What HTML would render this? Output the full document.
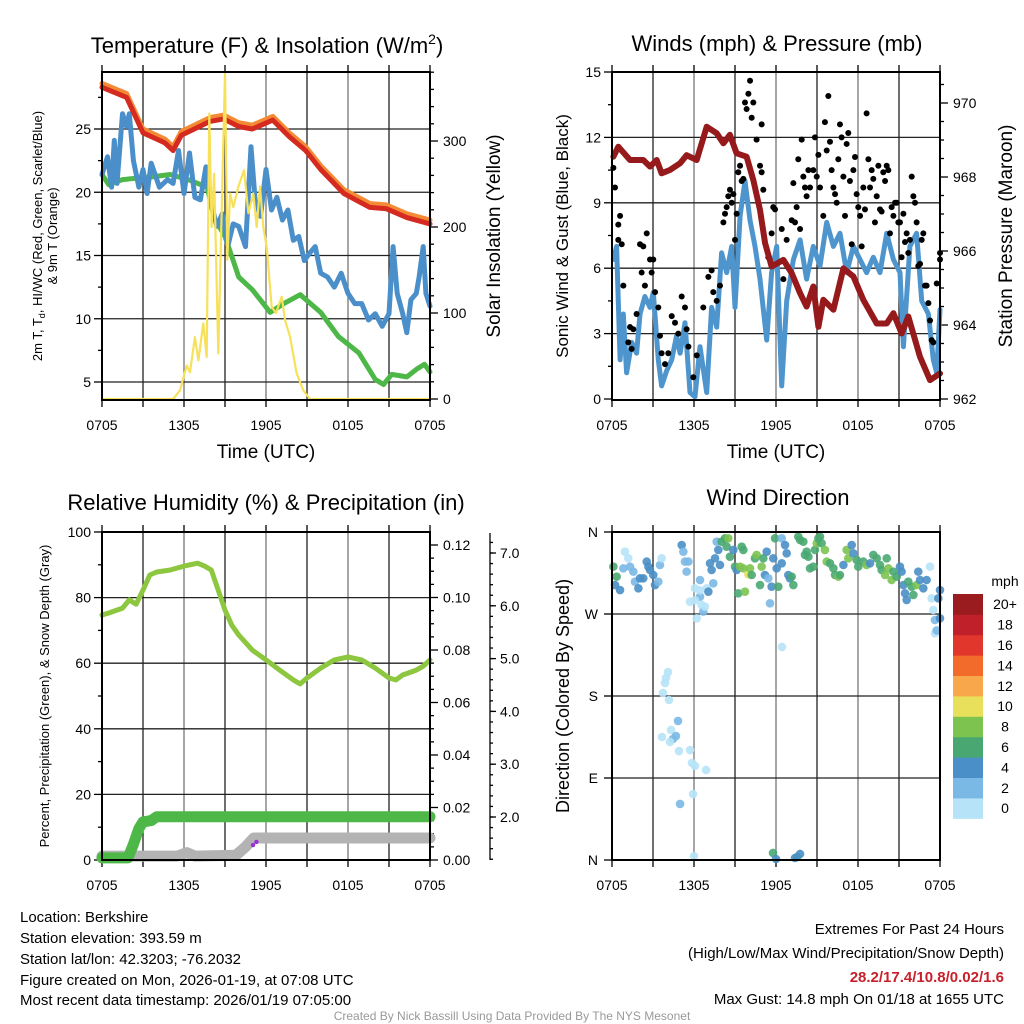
<!DOCTYPE html>
<html><head><meta charset="utf-8"><style>
html,body{margin:0;padding:0;background:#fff;}
svg{display:block;font-family:"Liberation Sans",Arial,sans-serif;}
</style></head><body>
<svg id="chart" width="1024" height="1024" viewBox="0 0 1024 1024">
<rect width="1024" height="1024" fill="#fff"/>
<g id="layer"></g>
<text x="267" y="53" font-size="22" text-anchor="middle">Temperature (F) &amp; Insolation (W/m<tspan font-size="14" dy="-9">2</tspan><tspan dy="9">)</tspan></text>
<text x="777" y="51" font-size="22" text-anchor="middle">Winds (mph) &amp; Pressure (mb)</text>
<text x="266" y="510" font-size="22" text-anchor="middle">Relative Humidity (%) &amp; Precipitation (in)</text>
<text x="778" y="505" font-size="22" text-anchor="middle">Wind Direction</text>
<text x="266" y="458" font-size="19" text-anchor="middle">Time (UTC)</text>
<text x="776" y="458" font-size="19" text-anchor="middle">Time (UTC)</text>
<text transform="translate(42,236) rotate(-90)" font-size="13" text-anchor="middle">2m T, T<tspan font-size="9" dy="3">d</tspan><tspan dy="-3">, HI/WC (Red, Green, Scarlet/Blue)</tspan></text>
<text transform="translate(57,236) rotate(-90)" font-size="13" text-anchor="middle">&amp; 9m T (Orange)</text>
<text transform="translate(500,236) rotate(-90)" font-size="19" text-anchor="middle">Solar Insolation (Yellow)</text>
<text transform="translate(568,236) rotate(-90)" font-size="17" text-anchor="middle">Sonic Wind &amp; Gust (Blue, Black)</text>
<text transform="translate(1012,236) rotate(-90)" font-size="19" text-anchor="middle">Station Pressure (Maroon)</text>
<text transform="translate(49,696) rotate(-90)" font-size="13" text-anchor="middle">Percent, Precipitation (Green), &amp; Snow Depth (Gray)</text>
<text transform="translate(569,696) rotate(-90)" font-size="18" text-anchor="middle">Direction (Colored By Speed)</text>
<g font-size="15">
<text x="20" y="922">Location: Berkshire</text>
<text x="20" y="943">Station elevation: 393.59 m</text>
<text x="20" y="964">Station lat/lon: 42.3203; -76.2032</text>
<text x="20" y="985">Figure created on Mon, 2026-01-19, at 07:08 UTC</text>
<text x="20" y="1005">Most recent data timestamp: 2026/01/19 07:05:00</text>
</g>
<g font-size="15" text-anchor="end">
<text x="1004" y="934">Extremes For Past 24 Hours</text>
<text x="1004" y="958">(High/Low/Max Wind/Precipitation/Snow Depth)</text>
<text x="1004" y="982" fill="#c8202a" font-weight="bold">28.2/17.4/10.8/0.02/1.6</text>
<text x="1004" y="1004">Max Gust: 14.8 mph On 01/18 at 1655 UTC</text>
</g>
<text x="512" y="1020" font-size="12" fill="#999" text-anchor="middle">Created By Nick Bassill Using Data Provided By The NYS Mesonet</text>
</svg>
<script>
// ---------- data ----------
var timeTicks = ["0705","1305","1905","0105","0705"];
var tempRed = [[0,28.3],[1.8,27.5],[3.0,24.7],[4.6,23.9],[5.2,23.3],[5.8,24.5],[7.9,25.6],[8.9,25.8],[10.0,25.2],[11.0,25.0],[12.5,25.7],[13.7,24.4],[14.9,23.3],[16.0,21.8],[17.7,19.9],[19.6,18.8],[20.8,18.7],[22.3,18.0],[24,17.5]];
var tempOrange = [[0,28.6],[1.8,27.8],[3.0,25.0],[4.6,24.2],[5.2,23.6],[5.8,24.8],[7.9,25.9],[8.9,26.1],[10.0,25.5],[11.0,25.3],[12.5,26.0],[13.7,24.7],[14.9,23.6],[16.0,22.1],[17.7,20.2],[19.6,19.1],[20.8,19.0],[22.3,18.3],[24,17.8]];
var tempGreen = [[0,21.4],[0.5,20.6],[1.5,21.0],[2.5,21.1],[3.5,21.2],[5,21.4],[6.3,21.0],[7,20.7],[7.7,20.4],[8.2,18.0],[9,16.5],[9.6,14.6],[10,13.3],[11,12.3],[11.8,11.2],[12.3,10.5],[13.3,11.2],[14.5,11.9],[16,10.5],[17.3,8.6],[18.8,7.3],[20,5.2],[20.6,4.8],[21.2,5.6],[22.3,5.4],[23,6.0],[23.6,6.4],[24,5.8]];
var tempBlue = [[0,21.4],[0.4,22.8],[0.7,20.4],[0.9,24.1],[1.1,20.7],[1.5,26.2],[1.8,25.2],[2.0,26.2],[2.3,22.5],[2.7,20.4],[3.0,21.8],[3.3,19.9],[3.6,22.3],[4.2,20.4],[4.8,21.0],[5.2,20.7],[5.6,23.3],[6.0,19.9],[6.4,23.1],[6.8,19.6],[7.2,19.4],[7.6,22.0],[8.0,19.1],[8.4,17.3],[8.8,18.3],[9.2,15.7],[9.6,17.5],[10,17.3],[10.5,15.7],[10.9,23.6],[11.2,19.4],[11.6,18.1],[12,21.8],[12.4,18.6],[12.8,19.6],[13.2,17.8],[13.6,18.6],[14,16.2],[14.4,16.5],[14.8,14.6],[15.2,15.2],[15.6,15.7],[16,13.6],[16.5,13.3],[17,12.5],[17.5,13.6],[18,12.0],[18.5,11.2],[19,11.2],[19.5,9.9],[20,10.4],[20.5,9.4],[21,10.4],[21.3,15.7],[21.6,12.0],[22,10.4],[22.3,8.9],[22.6,11.5],[23,12.0],[23.2,13.3],[23.5,15.7],[23.7,12.0],[24,11.0]];
var solar = [[0,0],[5.2,0],[5.71,10],[6.2,39],[6.44,31],[6.8,72],[7.05,45],[7.41,88],[7.66,49],[7.85,332],[8.02,200],[8.2,262],[8.51,53],[8.76,220],[9.0,379],[9.17,162],[9.37,239],[9.61,223],[9.98,247],[10.39,266],[10.71,216],[11.07,239],[11.32,200],[11.56,247],[11.8,200],[12.05,177],[12.42,107],[12.73,100],[13.15,119],[13.39,92],[13.76,72],[14.24,30],[14.73,10],[15.22,0],[24,0]];
var pressure = [[0.1,968.55],[0.46,968.82],[1.32,968.46],[2.29,968.46],[2.78,968.28],[3.27,968.46],[3.63,968.10],[4.24,968.19],[4.98,968.37],[5.46,968.59],[6.2,968.46],[6.93,969.36],[7.66,969.18],[8.15,968.91],[8.63,969.14],[9.12,968.64],[9.85,968.55],[10.34,967.92],[10.83,967.11],[11.2,966.21],[11.68,965.58],[12.54,965.76],[13.15,965.40],[13.76,964.86],[14.24,964.50],[14.73,965.04],[15.1,963.95],[15.46,964.68],[16.2,964.41],[16.93,965.53],[17.66,965.31],[18.39,964.68],[19.37,964.04],[20.1,964.04],[20.59,964.32],[21.2,963.77],[21.68,964.23],[22.54,963.14],[23.27,962.51],[24.0,962.69]];
var wind = [[0.1,6.4],[0.34,7.0],[0.59,1.8],[0.83,3.9],[1.07,1.2],[1.44,2.6],[1.8,2.1],[2.05,3.9],[2.41,4.7],[2.78,4.2],[3.02,4.9],[3.39,1.8],[3.63,0.6],[4.0,1.3],[4.37,1.8],[4.73,2.9],[4.98,2.1],[5.34,3.5],[5.71,0.3],[6.07,0.1],[6.44,2.4],[6.93,0.3],[7.29,4.2],[7.66,3.3],[8.02,6.7],[8.39,5.8],[8.76,7.0],[9.0,4.2],[9.37,8.4],[9.73,10.0],[10.1,8.2],[10.46,7.0],[10.83,5.5],[11.32,2.7],[11.68,5.8],[12.05,7.0],[12.42,0.6],[12.78,4.5],[13.27,6.4],[13.76,7.3],[14.24,5.5],[14.73,7.0],[15.22,6.1],[15.71,8.1],[16.2,7.0],[16.68,7.6],[17.17,5.8],[17.66,7.0],[18.15,6.4],[18.63,5.8],[19.12,6.5],[19.61,5.8],[20.1,7.6],[20.59,6.4],[21.07,5.8],[21.32,2.4],[21.8,7.0],[22.29,7.6],[22.66,4.5],[23.15,3.9],[23.51,1.8],[23.76,1.2],[24.0,4.1]];
var gust = [[0.1,10.6],[0.22,9.7],[0.46,8.0],[0.59,8.4],[0.46,7.3],[0.71,7.1],[0.83,5.2],[1.32,3.3],[1.19,2.6],[1.56,3.2],[1.44,2.3],[1.8,3.9],[2.05,7.1],[2.17,5.8],[2.29,7.0],[2.54,7.6],[2.41,5.2],[2.78,6.4],[3.02,6.4],[2.9,5.8],[3.15,4.9],[3.39,4.2],[3.51,2.9],[3.63,2.1],[3.88,1.6],[4.12,2.1],[4.37,3.8],[4.61,3.5],[4.85,3.0],[5.1,4.7],[5.34,4.2],[5.46,3.2],[5.59,2.4],[5.95,1.0],[6.2,2.0],[6.68,4.2],[7.05,5.6],[7.29,5.9],[7.41,4.9],[7.66,4.5],[7.9,5.2],[8.15,8.1],[8.27,8.5],[8.39,8.8],[8.51,9.3],[8.63,9.6],[8.76,9.0],[8.88,9.4],[9.0,7.3],[9.12,8.5],[9.24,10.4],[9.37,10.7],[9.49,10.0],[9.61,10.1],[9.73,13.6],[9.85,13.3],[9.98,14.0],[10.1,14.6],[10.22,12.9],[10.34,13.6],[10.58,11.9],[10.95,12.6],[10.83,10.7],[10.95,10.4],[11.07,9.6],[11.44,6.5],[11.68,7.6],[11.8,8.8],[11.93,8.7],[12.42,7.8],[12.54,5.5],[12.78,7.3],[13.15,8.2],[13.27,9.9],[13.39,8.1],[13.51,8.8],[13.63,11.0],[13.76,7.8],[13.88,11.9],[14.0,10.2],[14.12,9.7],[14.24,9.3],[14.37,10.5],[14.49,9.7],[14.73,10.5],[14.85,12.0],[14.98,10.2],[15.1,11.2],[15.22,9.7],[15.46,8.4],[15.58,12.7],[15.71,11.4],[15.83,13.9],[15.95,11.8],[16.07,10.5],[16.2,9.7],[16.32,9.4],[16.44,9.0],[16.56,11.0],[16.68,12.6],[16.8,12.0],[16.93,10.2],[17.05,8.4],[17.17,11.7],[17.29,12.2],[17.41,10.0],[17.54,7.1],[17.66,10.5],[17.78,11.1],[17.9,9.4],[18.02,8.8],[18.15,8.4],[18.27,7.0],[18.39,9.7],[18.51,8.7],[18.63,13.1],[18.76,11.0],[18.88,9.7],[19.0,10.5],[19.12,10.1],[19.24,8.1],[19.37,9.3],[19.49,10.7],[19.61,8.7],[19.73,8.6],[19.85,10.4],[19.98,10.0],[20.1,10.7],[20.22,10.5],[20.34,7.6],[20.46,8.8],[20.59,8.4],[20.71,9.0],[20.83,9.0],[20.95,8.1],[21.07,8.1],[21.19,6.5],[21.32,8.5],[21.44,7.2],[21.56,7.6],[21.68,6.7],[21.8,7.3],[21.93,10.2],[22.05,9.3],[22.17,9.0],[22.29,8.1],[22.41,6.1],[22.54,6.2],[22.66,7.3],[22.78,7.6],[22.9,5.2],[23.02,5.2],[23.15,4.4],[23.27,3.6],[23.39,2.7],[23.51,2.6],[23.76,5.3],[24.0,6.7],[24.0,6.4]];
var rh = [[0,74.7],[0.5,75.3],[1.5,76.8],[2,79.3],[2.5,78.0],[3,82.3],[3.5,86.9],[4,87.8],[5,88.4],[6,89.6],[7,90.5],[7.5,89.6],[8,88.4],[8.5,82.3],[9,76.2],[9.5,71.6],[10,68.6],[11,64.0],[12,61.0],[13,57.9],[14,54.9],[14.5,53.7],[15,55.5],[16,58.5],[17,61.0],[18,61.9],[19,61.0],[20,58.5],[21,55.5],[21.5,54.9],[22,56.4],[23,57.9],[23.5,59.1],[24,61.0]];
var precip = [[0,0.0008],[1.9,0.0008],[2.3,0.006],[2.7,0.012],[3.0,0.0145],[3.6,0.015],[4.0,0.0165],[24,0.0165]];
var snow = [[0,0.0015],[5.5,0.0015],[6.2,0.0028],[6.8,0.0015],[9.8,0.0018],[10.5,0.005],[11.1,0.0084],[24,0.0084]];
var snowMarks = [[11.05,0.0057],[11.3,0.0069]];
var dirT = [0.1,0.34,0.22,0.59,0.95,1.19,0.83,1.32,1.56,1.68,1.93,2.05,2.29,2.54,2.66,2.78,3.02,3.15,3.39,3.51,3.63,5.1,5.22,5.34,5.46,5.59,5.71,6.07,6.2,6.44,6.44,6.56,6.68,6.8,6.93,7.05,7.17,7.29,7.41,7.54,7.66,7.78,7.9,8.02,8.27,8.39,8.51,8.63,8.88,9.0,9.12,9.24,9.37,9.49,9.61,9.61,9.73,9.98,10.1,10.22,10.46,10.58,10.83,10.95,11.07,11.19,11.32,11.44,11.56,11.68,11.8,11.93,12.05,12.17,12.42,12.42,12.66,12.78,12.9,13.02,13.15,13.27,13.63,13.76,14.0,14.12,14.24,14.37,14.49,14.73,14.85,14.98,15.1,15.22,15.34,15.58,15.71,15.95,16.2,16.32,16.56,16.68,16.93,17.17,17.29,17.54,17.66,17.9,18.02,18.39,18.63,18.88,19.12,19.37,19.61,19.73,19.98,20.1,20.22,20.46,20.59,20.83,21.07,21.19,21.32,21.44,21.56,21.68,21.93,22.05,22.29,22.41,22.54,22.78,23.02,23.27,23.39,23.51,23.63,23.88,24.0,24.0,23.63,23.76,4.1,3.95,3.88,3.73,4.17,4.83,4.32,3.66,4.68,4.46,4.24,4.9,5.71,5.85,6.07,6.88,5.93,4.98,6.0,12.44,11.78,12.0,13.54,13.76,13.39,6.07,6.44];
var dirDeg = [322.0,311.0,301.8,296.3,338.4,331.1,320.1,322.0,316.5,305.5,298.2,309.2,309.2,327.5,322.0,318.3,312.8,301.8,305.5,323.8,331.1,345.7,338.4,327.5,316.5,327.5,283.5,298.2,265.3,307.3,289.0,279.9,272.6,278.1,298.2,294.5,325.6,318.3,303.7,331.1,349.4,340.3,323.8,349.4,353.1,343.9,353.1,332.9,340.3,322.0,318.3,292.7,322.0,343.9,340.3,320.1,294.5,313.5,320.1,312.8,331.1,334.8,301.8,322.0,331.1,312.8,338.4,309.2,281.7,300.0,331.1,353.1,320.1,300.0,353.1,325.6,345.7,336.6,312.8,309.2,311.0,301.8,354.9,351.2,349.4,334.8,338.4,332.9,320.1,322.0,340.3,347.6,353.1,354.9,347.6,340.3,327.5,325.6,320.1,312.8,311.0,312.8,323.8,340.3,331.1,345.7,336.6,329.3,322.0,327.5,323.8,325.6,334.8,331.1,323.8,318.3,312.8,331.1,320.1,307.3,316.5,311.0,322.0,316.5,301.8,292.7,285.4,305.5,300.0,290.9,301.8,316.5,307.3,298.2,307.3,322.0,287.2,274.4,263.4,287.2,296.3,265.3,248.8,252.0,206.3,199.8,194.3,183.3,175.6,152.6,142.7,135.0,136.1,132.8,129.5,119.6,120.7,106.5,103.2,98.8,72.4,61.5,4.4,233.8,7.7,1.1,3.3,6.6,2.2,285.0,296.0];
var dirSpd = [7,7,5,5,1,1,3,3,3,3,5,5,5,5,5,5,5,5,3,3,1,5,3,3,3,3,1,1,1,3,3,1,3,1,1,5,5,5,3,5,3,5,5,7,7,7,9,7,5,7,5,7,9,7,7,9,9,10.5,9,7,7,9,7,9,7,5,5,3,3,5,5,7,5,7,3,5,5,5,5,5,7,7,7,7,7,7,7,7,7,7,7,9,7,7,7,9,9,7,7,7,9,7,5,9,9,5,5,7,7,7,9,5,7,7,7,7,9,7,9,9,7,7,5,5,5,5,5,7,7,7,9,5,5,5,5,1,1,1,3,5,5,5,1,3,1,1,1,1,1,3,1,1,3,3,1,1,1,1,1,1,1,3,1,1,7,5,7,5,5,1,1];
var speedBins = ["0","2","4","6","8","10","12","14","16","18","20+"];
var speedColors = ["#b6e3f7","#7ab8e5","#4a8fc7","#49a871","#7cc350","#e8e05a","#f8a84a","#f26b2b","#e0362c","#c0202a","#9b1c1f"];
var tempTicks = [5,10,15,20,25];
var solarTicks = [0,100,200,300];
var windTicks = [0,3,6,9,12,15];
var presTicks = [962,964,966,968,970];
var rhTicks = [0,20,40,60,80,100];
var precipTicks = ["0.00","0.02","0.04","0.06","0.08","0.10","0.12"];
var snowTicks = ["2.0","3.0","4.0","5.0","6.0","7.0"];
var dirLabels = ["N","E","S","W","N"];

// ---------- helpers ----------
var NS="http://www.w3.org/2000/svg";
var layer=document.getElementById('layer');
function mk(tag,attrs,parent){var e=document.createElementNS(NS,tag);for(var k in attrs)e.setAttribute(k,attrs[k]);(parent||layer).appendChild(e);return e;}
function lin(d0,d1,r0,r1){return function(v){return r0+(v-d0)*(r1-r0)/(d1-d0);};}
function pathOf(arr,sx,sy){return arr.map(function(p,i){return (i?'L':'M')+sx(p[0]).toFixed(1)+','+sy(p[1]).toFixed(1);}).join('');}

var panels=[{x0:102,y0:72},{x0:612,y0:72},{x0:102,y0:532},{x0:612,y0:532}];
var W=328,H=328;

function frame(p,id){
  var g=mk('g',{});
  
  
  var sx=lin(0,24,p.x0,p.x0+W);
  for(var i=1;i<8;i++){
    var gl=mk('line',{x1:sx(i*3),x2:sx(i*3),y1:p.y0,y2:p.y0+H,stroke:(i%2?'#222':'#777'),'stroke-width':1.3},g);
    
    
  }
  for(var j=0;j<=8;j++){
    var tk=mk('line',{x1:sx(j*3),x2:sx(j*3),y1:p.y0+H,y2:p.y0+H+7,stroke:'#000','stroke-width':1.3},g);
    
    
    var tk2=mk('line',{x1:sx(j*3),x2:sx(j*3),y1:p.y0-7,y2:p.y0,stroke:'#000','stroke-width':1.3},g);
    
    
  }
  for(var k=0;k<timeTicks.length;k++){
    var t=mk('text',{x:sx(k*6),y:p.y0+H+30,'font-size':14,'text-anchor':'middle'},g);
    t.textContent=timeTicks[k];
    
    
  }
  return {g:g,sx:sx};
}
function hgrid(g,p,y){var l=mk('line',{x1:p.x0,x2:p.x0+W,y1:y,y2:y,stroke:'#222','stroke-width':1.3},g);
  
  }
function ytick(g,x,y,len,label,anchor,tx,name){
  var l=mk('line',{x1:x,x2:x+len,y1:y,y2:y,stroke:'#000','stroke-width':1.3},g);
  
  
  if(label!==null){var t=mk('text',{x:tx,y:y+5,'font-size':14,'text-anchor':anchor},g);t.textContent=label;
    
    }
}
function border(g,p){var r=mk('rect',{x:p.x0,y:p.y0,width:W,height:H,fill:'none',stroke:'#000','stroke-width':2},g);
  
  }
function line(g,arr,sx,sy,color,w,name){var e=mk('path',{d:pathOf(arr,sx,sy),fill:'none',stroke:color,'stroke-width':w,'stroke-linejoin':'round','stroke-linecap':'round'},g);
  
  return e;}

// ---------- Panel 1: temperature ----------
(function(){
  var p=panels[0],f=frame(p,'temperature'),g=f.g,sx=f.sx;
  var sy=lin(5,25,382,129), sSol=lin(0,300,399,141);
  tempTicks.forEach(function(v){hgrid(g,p,sy(v));ytick(g,p.x0-8,sy(v),8,String(v),'end',p.x0-11,'temp-y');});
  [7.5,12.5,17.5,22.5,27.5].forEach(function(v){ytick(g,p.x0-4,sy(v),4,null,'end',0,'temp-y-minor');});
  solarTicks.forEach(function(v){ytick(g,p.x0+W,sSol(v),8,String(v),'start',p.x0+W+13,'solar-y');});
  for(var s=20;s<=380;s+=20){if(s%100)ytick(g,p.x0+W,sSol(s),4,null,'start',0,'solar-y-minor');}
  line(g,tempGreen,sx,sy,'#4db847',5,'dewpoint-line-green');
  line(g,tempBlue,sx,sy,'#4a8fc9',5,'wind-chill-line-blue');
  line(g,tempOrange,sx,sy,'#f58a34',5,'temp-9m-line-orange');
  line(g,tempRed,sx,sy,'#d42a20',5,'temp-2m-line-red');
  line(g,solar,sx,sSol,'#f7e15a',2.2,'solar-insolation-line');
  border(g,p);
})();

// ---------- Panel 2: winds ----------
(function(){
  var p=panels[1],f=frame(p,'winds'),g=f.g,sx=f.sx;
  var sy=lin(0,15,399,72), sP=lin(962,970,399,103);
  windTicks.forEach(function(v){if(v>0&&v<15)hgrid(g,p,sy(v));ytick(g,p.x0-8,sy(v),8,String(v),'end',p.x0-11,'wind-y');});
  [1.5,4.5,7.5,10.5,13.5].forEach(function(v){ytick(g,p.x0-4,sy(v),4,null,'end',0,'wind-y-minor');});
  presTicks.forEach(function(v){ytick(g,p.x0+W,sP(v),8,String(v),'start',p.x0+W+13,'pressure-y');});
  for(var m=962.5;m<970.9;m+=0.5){if(m%2)ytick(g,p.x0+W,sP(m),4,null,'start',0,'pressure-y-minor');}
  line(g,wind,sx,sy,'#4f95cd',5,'sonic-wind-line');
  gust.forEach(function(d){var c=mk('circle',{cx:sx(d[0]),cy:sy(d[1]),r:3,fill:'#000'},g);
    
    });
  line(g,pressure,sx,sP,'#961a1c',6,'pressure-line');
  border(g,p);
})();

// ---------- Panel 3: humidity ----------
(function(){
  var p=panels[2],f=frame(p,'humidity'),g=f.g,sx=f.sx;
  var sy=lin(0,100,860,532), sPr=lin(0,0.12,860,545), sSn=lin(2,7,817,553);
  rhTicks.forEach(function(v){if(v>0&&v<100)hgrid(g,p,sy(v));ytick(g,p.x0-8,sy(v),8,String(v),'end',p.x0-11,'rh-y');});
  [10,30,50,70,90].forEach(function(v){ytick(g,p.x0-4,sy(v),4,null,'end',0,'rh-y-minor');});
  var ax=mk('line',{x1:p.x0+W,x2:p.x0+W,y1:532,y2:860,stroke:'#000','stroke-width':1.3},g);
  
  
  precipTicks.forEach(function(v){ytick(g,p.x0+W,sPr(+v),8,v,'start',p.x0+W+13,'precip-y');});
  for(var q=0.005;q<0.125;q+=0.005){if(Math.round(q*1000)%20)ytick(g,p.x0+W,sPr(q),4,null,'start',0,'precip-y-minor');}
  var sax=mk('line',{x1:490,x2:490,y1:533,y2:860,stroke:'#000','stroke-width':1.3},g);
  
  
  snowTicks.forEach(function(v){ytick(g,490,sSn(+v),6,v,'start',500,'snow-y');});
  for(var s=1.2;s<7.4;s+=0.2){ytick(g,490,sSn(s),3,null,'start',0,'snow-y-minor');}
  line(g,rh,sx,sy,'#8dc63f',5,'relative-humidity-line');
  line(g,snow,sx,sPr,'#b3b3b3',11,'snow-depth-line');
  line(g,precip,sx,sPr,'#4db847',11,'precipitation-line');
  snowMarks.forEach(function(d){var c=mk('circle',{cx:sx(d[0]),cy:sPr(d[1]),r:2.2,fill:'#9b30d9'},g);
    
    });
  border(g,p);
})();

// ---------- Panel 4: wind direction ----------
(function(){
  var p=panels[3],f=frame(p,'direction'),g=f.g,sx=f.sx;
  var sy=lin(0,360,860,532);
  dirLabels.forEach(function(v,i){var yv=sy(i*90);if(i>0&&i<4)hgrid(g,p,yv);ytick(g,p.x0-8,yv,8,v,'end',p.x0-14,'direction-y');});
  dirT.forEach(function(t,i){
    var bin=Math.min(10,Math.floor(dirSpd[i]/2));
    var c=mk('circle',{cx:sx(t),cy:sy(dirDeg[i]),r:4.3,fill:speedColors[bin],'fill-opacity':0.9},g);
    
    
  });
  border(g,p);
  var lg=mk('g',{});
  
  
  var ut=mk('text',{x:1005,y:586,'font-size':14,'text-anchor':'middle'},lg);ut.textContent='mph';
  
  
  var bh=20.4;
  for(var i=0;i<speedBins.length;i++){
    var yy=594+(10-i)*bh;
    var r=mk('rect',{x:953,y:yy,width:30,height:bh+0.4,fill:speedColors[i]},lg);
    
    
    var t=mk('text',{x:1005,y:yy+bh/2+5,'font-size':14,'text-anchor':'middle'},lg);t.textContent=speedBins[i];
    
    
  }
})();
</script>
</body></html>
